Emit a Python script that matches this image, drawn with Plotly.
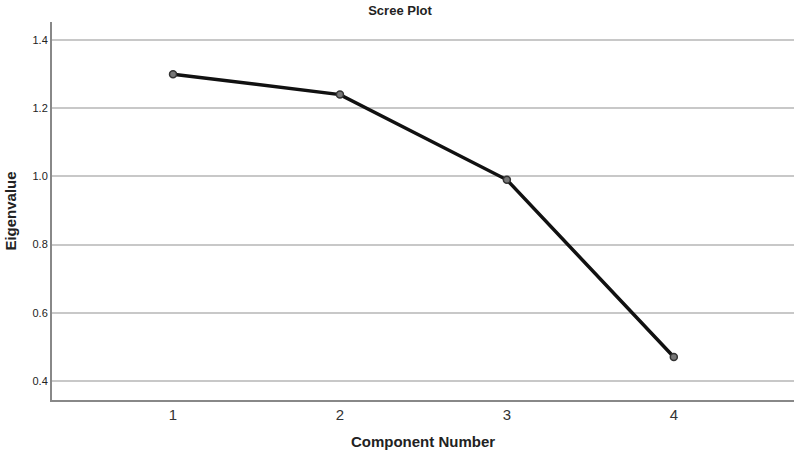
import plotly.graph_objects as go

components = [1, 2, 3, 4]
eigenvalues = [1.30, 1.24, 0.99, 0.47]
y_ticks = [0.4, 0.6, 0.8, 1.0, 1.2, 1.4]

fig = go.Figure()
fig.add_trace(go.Scatter(
    x=components, y=eigenvalues, mode="lines+markers",
    line=dict(color="#111111", width=3.5),
    marker=dict(size=7, color="#777777", line=dict(color="#333333", width=1.5)),
    showlegend=False,
))

fig.update_layout(
    width=800, height=459,
    margin=dict(l=52, r=6, t=22, b=59, autoexpand=False),
    plot_bgcolor="white", paper_bgcolor="white",
    title=dict(text="<b>Scree Plot</b>", x=0.5, xanchor="center", y=0.978, yanchor="middle",
               font=dict(family="Liberation Sans, Arial", size=13, color="#222222")),
    font=dict(family="Liberation Sans, Arial", color="#333333"),
)
fig.update_xaxes(
    range=[0.275, 4.72], tickvals=components, ticktext=[str(c) for c in components],
    showgrid=False, zeroline=False, showline=True, linecolor="#888888", linewidth=2,
    ticks="", tickfont=dict(size=15, color="#333333"), automargin=False,
    title=dict(text="<b>Component Number</b>", font=dict(size=15, color="#222222"), standoff=14),
)
fig.update_yaxes(
    range=[0.344, 1.453], tickvals=y_ticks, ticktext=[f"{v:.1f}" for v in y_ticks],
    showgrid=True, gridcolor="#c8c8c8", gridwidth=1.5, zeroline=False,
    showline=True, linecolor="#888888", linewidth=2, automargin=False,
    ticks="", tickfont=dict(size=11, color="#222222"),
    title=dict(text="<b>Eigenvalue</b>", font=dict(size=15, color="#222222"), standoff=12),
)

fig.write_html("out.html", config={"displayModeBar": False},
               post_script="document.body.style.margin='0';")
